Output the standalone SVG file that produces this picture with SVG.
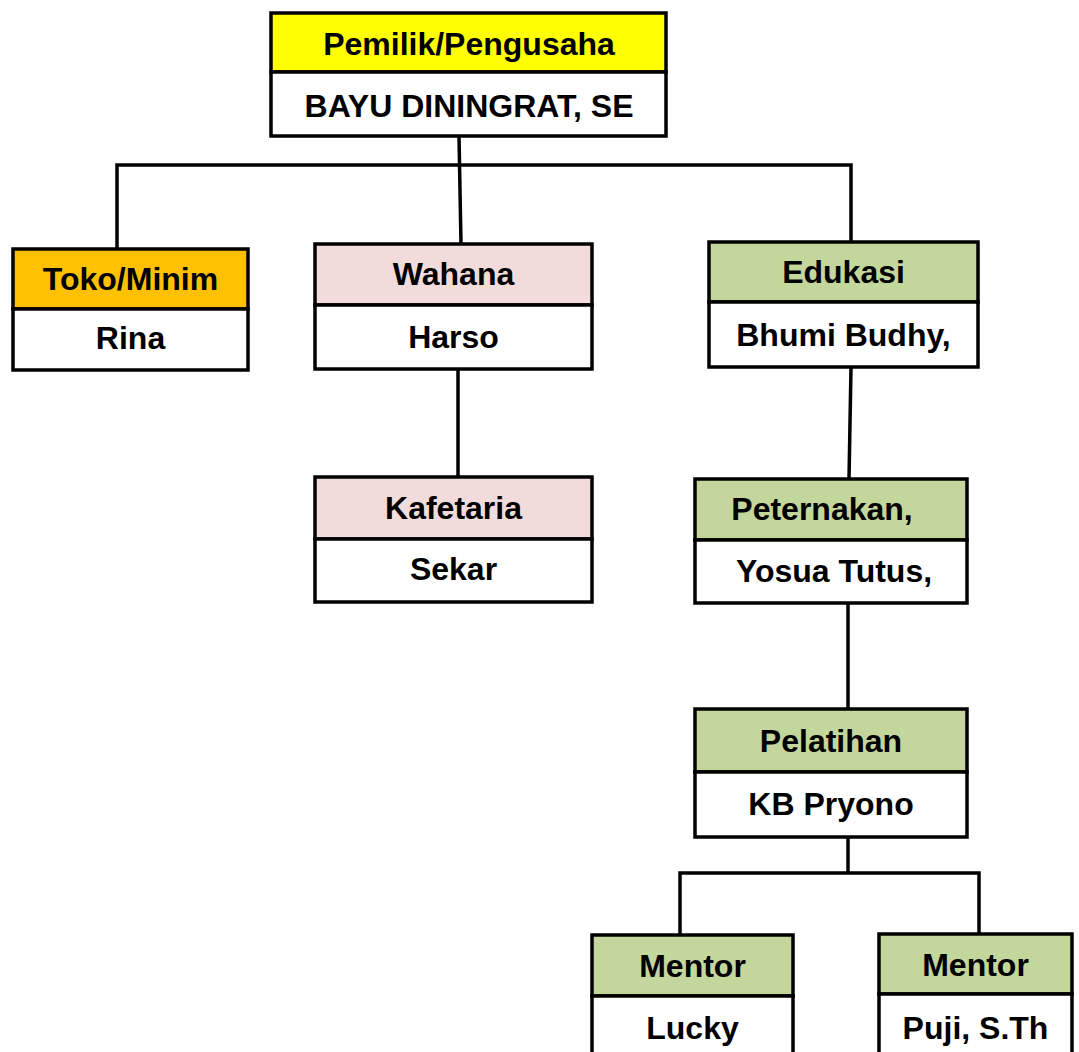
<svg xmlns="http://www.w3.org/2000/svg" width="1079" height="1052" viewBox="0 0 1079 1052">
<style>
.b{stroke:#000;stroke-width:3.5}
.w{fill:#fff}
.y{fill:#ffff00}
.o{fill:#ffc000}
.p{fill:#f2dcdb}
.g{fill:#c3d69b}
text{font-family:"Liberation Sans",Arial,sans-serif;font-weight:bold;font-size:32px;fill:#000;text-anchor:middle}
.c{fill:none;stroke:#000;stroke-width:3.5}
</style>
<rect width="1079" height="1052" fill="#fff"/>
<g id="connectors">
<path class="c" d="M459,136 L461,244"/>
<path class="c" d="M117,249 L117,165 L851,165 L851,243"/>
<path class="c" d="M458,369 L458,477"/>
<path class="c" d="M851,367 L849,479"/>
<path class="c" d="M848,603 L848,709"/>
<path class="c" d="M848,837 L848,873"/>
<path class="c" d="M680,935 L680,873 L979,873 L979,933"/>
</g>
<g id="pemilik">
<rect class="b y" x="271" y="13" width="395" height="59"/>
<rect class="b w" x="271" y="72" width="395" height="64"/>
<text x="469" y="55">Pemilik/Pengusaha</text>
<text x="469" y="117">BAYU DININGRAT, SE</text>
</g>
<g id="toko">
<rect class="b o" x="13" y="249" width="235" height="60"/>
<rect class="b w" x="13" y="309" width="235" height="61"/>
<text x="130.5" y="290">Toko/Minim</text>
<text x="130.5" y="349">Rina</text>
</g>
<g id="wahana">
<rect class="b p" x="315" y="244" width="277" height="61"/>
<rect class="b w" x="315" y="305" width="277" height="64"/>
<text x="453.5" y="285">Wahana</text>
<text x="453.5" y="348">Harso</text>
</g>
<g id="edukasi">
<rect class="b g" x="709" y="242" width="269" height="60"/>
<rect class="b w" x="709" y="302" width="269" height="65"/>
<text x="843.5" y="283">Edukasi</text>
<text x="843.5" y="346">Bhumi Budhy,</text>
</g>
<g id="kafetaria">
<rect class="b p" x="315" y="477" width="277" height="62"/>
<rect class="b w" x="315" y="539" width="277" height="63"/>
<text x="453.5" y="519">Kafetaria</text>
<text x="453.5" y="580">Sekar</text>
</g>
<g id="peternakan">
<rect class="b g" x="695" y="479" width="272" height="61"/>
<rect class="b w" x="695" y="540" width="272" height="63"/>
<text x="822" y="520">Peternakan,</text>
<text x="834" y="582">Yosua Tutus,</text>
</g>
<g id="pelatihan">
<rect class="b g" x="695" y="709" width="272" height="63"/>
<rect class="b w" x="695" y="772" width="272" height="65"/>
<text x="831" y="752">Pelatihan</text>
<text x="831" y="815">KB Pryono</text>
</g>
<g id="mentor1">
<rect class="b g" x="592" y="935" width="201" height="61"/>
<rect class="b w" x="592" y="996" width="201" height="70"/>
<text x="692.5" y="977">Mentor</text>
<text x="692.5" y="1039">Lucky</text>
</g>
<g id="mentor2">
<rect class="b g" x="879" y="934" width="193" height="60"/>
<rect class="b w" x="879" y="994" width="193" height="72"/>
<text x="975.5" y="976">Mentor</text>
<text x="975.5" y="1039">Puji, S.Th</text>
</g>
</svg>
